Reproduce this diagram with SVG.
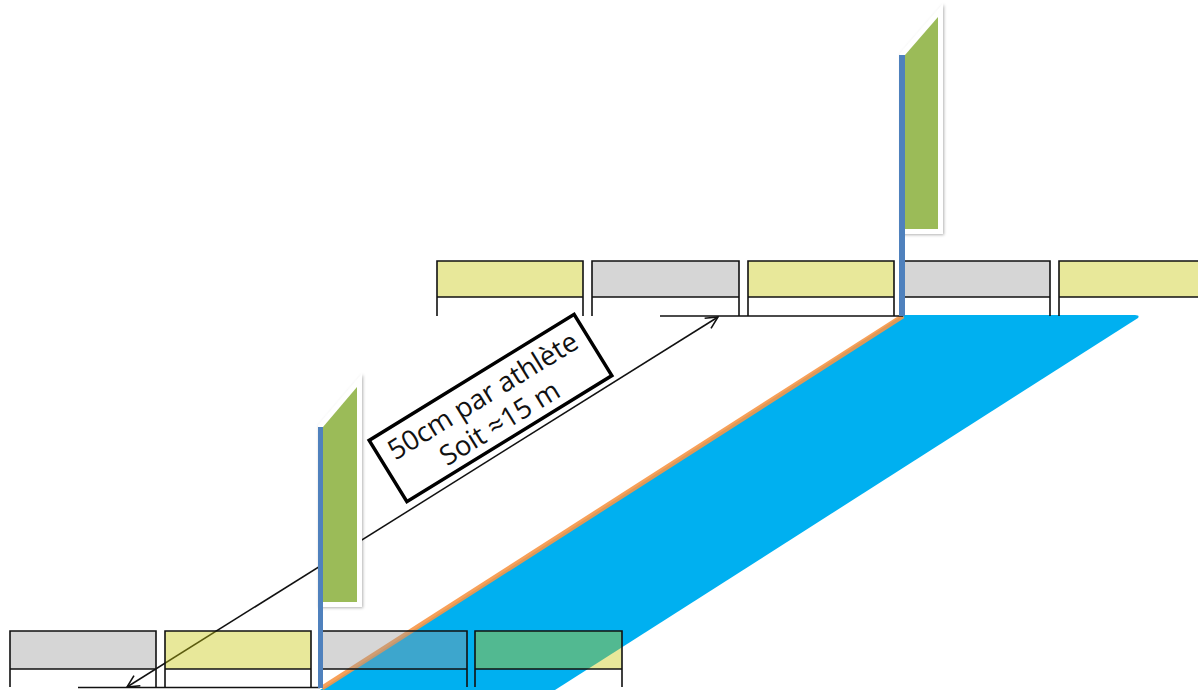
<svg xmlns="http://www.w3.org/2000/svg" width="1198" height="690" viewBox="0 0 1198 690">
<style>
.edge{fill:none;stroke:#111;stroke-width:1.6}
.y{fill:#e8e89a}
.g{fill:#d6d6d6}
.yt{fill:#c8c70a;fill-opacity:.41}
.gt{fill:#999;fill-opacity:.4}
.flag{fill:#9bbb59;stroke:#fff;stroke-width:10;stroke-linejoin:miter;paint-order:stroke;filter:url(#sh)}
.pole{fill:#4f81bd}
.lbl{font-family:"Open Sans","Liberation Sans",sans-serif;font-size:27.500px;fill:#111;text-anchor:middle}
</style>
<defs>
<filter id="sh" x="-30%" y="-10%" width="160%" height="120%"><feDropShadow dx="1" dy="1" stdDeviation="1.5" flood-color="#000" flood-opacity=".3"/></filter>
<marker id="ah" viewBox="0 0 16 16" refX="15" refY="8" markerWidth="16" markerHeight="16" markerUnits="userSpaceOnUse" orient="auto-start-reverse"><path d="M3 2 L15 8 L3 14" fill="none" stroke="#111" stroke-width="1.6"/></marker>
</defs>
<g id="field">
<path d="M903 315H1135Q1140 315 1138 318L555 690H320Z" fill="#00b0f0"/>
<path d="M903 316L322 688" fill="none" stroke="#f79646" stroke-width="5" stroke-opacity=".9"/>
</g>
<g id="connectors">
<path class="edge" d="M660 316H903M78 687.500H320"/>
<path d="M718 317L127 687" fill="none" stroke="#111" stroke-width="1.5" marker-start="url(#ah)" marker-end="url(#ah)"/>
</g>
<g id="row-top">
<g id="t1"><rect class="y" x="437" y="261" width="146" height="36"/><path class="edge" d="M437 316V261H583V316M437 297H583"/></g>
<g id="t2"><rect class="g" x="592" y="261" width="147" height="36"/><path class="edge" d="M592 316V261H739V316M592 297H739"/></g>
<g id="t3"><rect class="y" x="748" y="261" width="146" height="36"/><path class="edge" d="M748 316V261H894V316M748 297H894"/></g>
<g id="t4"><rect class="g" x="904" y="261" width="146" height="36"/><path class="edge" d="M904 316V261H1050V316M904 297H1050"/></g>
<g id="t5"><rect class="y" x="1059" y="261" width="140" height="36"/><path class="edge" d="M1059 316V261H1199M1059 297H1199"/></g>
</g>
<g id="row-bottom">
<g id="b1"><rect class="g" x="10" y="631" width="146" height="38"/><path class="edge" d="M10 687V631H156V687M10 669H156"/></g>
<g id="b2"><rect class="yt" x="165" y="631" width="146" height="38"/><path class="edge" d="M165 687V631H311V687M165 669H311"/></g>
<g id="b3"><rect class="gt" x="321" y="631" width="146" height="38"/><path class="edge" d="M321 687V631H467V687M321 669H467"/></g>
<g id="b4"><rect class="yt" x="475" y="631" width="147" height="38"/><path class="edge" d="M475 687V631H622V687M475 669H622"/></g>
</g>
<g id="flag-top">
<path class="flag" d="M905 55L938 17V229H905Z"/>
<rect class="pole" x="899" y="55" width="6" height="261"/>
</g>
<g id="flag-bottom">
<path class="flag" d="M323 427L357 387V602H323Z"/>
<rect class="pole" x="318" y="427" width="5" height="261"/>
</g>
<g id="label" transform="translate(490.500 408) rotate(-31.600)">
<rect x="-120.300" y="-36" width="240.600" height="72" fill="#fff" stroke="#000" stroke-width="3.500"/>
<text class="lbl" x="0" y="-5">50cm par athlète</text>
<text class="lbl" x="0" y="27">Soit ≈15 m</text>
</g>
</svg>
